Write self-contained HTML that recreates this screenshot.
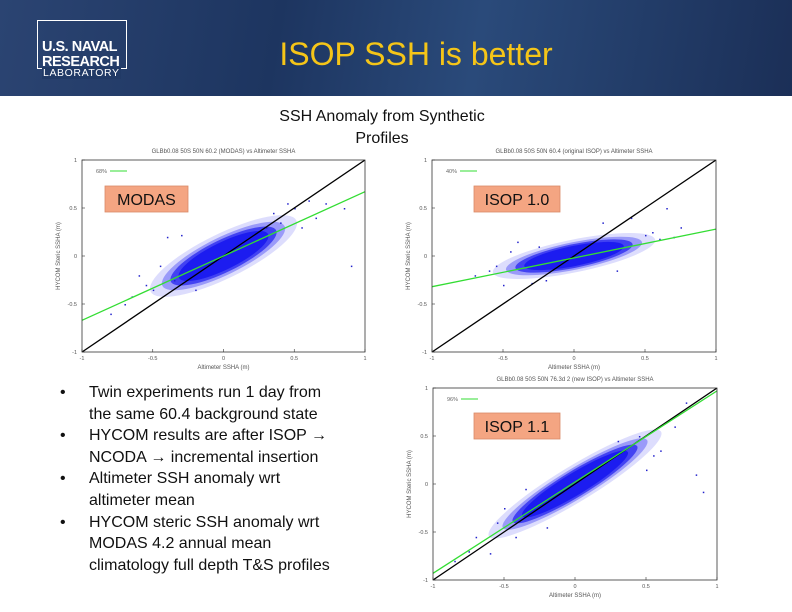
<!DOCTYPE html>
<html><head><meta charset="utf-8">
<style>
body{margin:0;width:792px;height:612px;overflow:hidden;background:#fff;font-family:"Liberation Sans",sans-serif;position:relative}
#hdr{position:absolute;left:0;top:0;width:792px;height:96px;background:linear-gradient(100deg,#2b4472 0%,#1d3560 35%,#2a4a7a 60%,#1b2f57 100%)}
#logo{position:absolute;left:37px;top:20px;width:88px;height:47px;border:1.5px solid #fff;color:#fff}
#title{position:absolute;left:0;width:832px;top:36px;text-align:center;color:#f5c518;font-size:32px}
#sub{position:absolute;left:232px;width:300px;top:106px;text-align:center;font-size:16px;line-height:22px;color:#111}
ul{position:absolute;left:58px;top:382px;margin:0;padding:0;width:286px;list-style:none;font-size:16px;line-height:21.6px;color:#111}
li{position:relative;padding-left:31px}
li:before{content:"•";position:absolute;left:2px}
</style></head><body>
<div id="hdr">
<div id="logo">
<div style="position:absolute;left:4px;top:19px;font-size:14.5px;font-weight:bold;line-height:15px;letter-spacing:-0.5px">U.S. NAVAL<br>RESEARCH</div>
<div style="position:absolute;left:4px;top:46px;font-size:10.5px;letter-spacing:0.6px;background:#213a66;padding:0 1px">LABORATORY</div>
</div>
<div id="title">ISOP SSH is better</div>
</div>
<div id="sub">SSH Anomaly from Synthetic<br>Profiles</div>
<ul>
<li>Twin experiments run 1 day from the same 60.4 background state</li>
<li>HYCOM results are after ISOP → NCODA → incremental insertion</li>
<li>Altimeter SSH anomaly wrt altimeter mean</li>
<li>HYCOM steric SSH anomaly wrt MODAS 4.2 annual mean climatology full depth T&amp;S profiles</li>
</ul>
<svg id="svg" width="792" height="612" style="position:absolute;left:0;top:0"></svg>
<script>
const tickVals=[-1,-0.5,0,0.5,1];
const tickLabels=["-1","-0.5","0","0.5","1"];
const plotNames=["modas","isop10","isop11"];
const plotLabels=["MODAS","ISOP 1.0","ISOP 1.1"];
const plotTitles=["GLBb0.08 50S 50N 60.2 (MODAS) vs Altimeter SSHA","GLBb0.08 50S 50N 60.4 (original ISOP) vs Altimeter SSHA","GLBb0.08 50S 50N 76.3d 2 (new ISOP) vs Altimeter SSHA"];
const fitSlopes=[0.67,0.3,0.95];
const fitIntercepts=[0.0,-0.02,0.02];
const fitLegend=["68%","40%","96%"];
const cloudSlopes=[0.72,0.3,0.9];
const cloudSpreadX=[0.3,0.36,0.34];
const cloudSpreadY=[0.15,0.11,0.12];
const outX=[[-0.8,-0.65,-0.6,-0.5,-0.45,-0.4,-0.3,0.35,0.45,0.5,0.6,0.72,0.85,0.9,-0.2,0.3,-0.55,-0.35,0.4,0.55,-0.7,0.65],[-0.7,-0.55,-0.5,-0.4,-0.3,-0.25,0.4,0.5,0.6,0.65,0.75,-0.2,0.3,0.2,-0.6,0.55,0.7,-0.45],[-0.85,-0.7,-0.6,-0.5,-0.42,-0.35,0.45,0.55,0.7,0.78,0.85,0.9,-0.2,0.3,-0.75,-0.55,0.6,0.5]];
const outY=[[-0.6,-0.42,-0.2,-0.35,-0.1,0.2,0.22,0.45,0.55,0.5,0.58,0.55,0.5,-0.1,-0.35,0.3,-0.3,-0.25,0.35,0.3,-0.5,0.4],[-0.2,-0.1,-0.3,0.15,-0.28,0.1,0.4,0.22,0.18,0.5,0.3,-0.25,-0.15,0.35,-0.15,0.25,0.2,0.05],[-0.8,-0.55,-0.72,-0.25,-0.55,-0.05,0.5,0.3,0.6,0.85,0.1,-0.08,-0.45,0.45,-0.7,-0.4,0.35,0.15]];
const boxes=[[82,365,160,352],[432,716,160,352],[433,717,388,580]];
const ns="http://www.w3.org/2000/svg";
const svg=document.getElementById('svg');
function mk(t,a,p){const e=document.createElementNS(ns,t);for(const k in a)e.setAttribute(k,a[k]);(p||svg).appendChild(e);return e;}
plotNames.forEach((nm,i)=>{
 const [x0,x1,y0,y1]=boxes[i];
 const sx=v=>x0+(v+1)/2*(x1-x0), sy=v=>y1-(v+1)/2*(y1-y0);
 const g=mk('g',{});
 
 
 const cp=mk('clipPath',{id:'c'+i},g);mk('rect',{x:x0,y:y0,width:x1-x0,height:y1-y0},cp);
 const t=mk('text',{x:(x0+x1)/2,y:y0-7,'font-size':6,'text-anchor':'middle',fill:'#555'},g);t.textContent=plotTitles[i];
 
 
 const ci=mk('g',{'clip-path':'url(#c'+i+')'},g);
 const ang=Math.atan2(cloudSlopes[i]*(y1-y0)/2,(x1-x0)/2)*180/Math.PI;
 const rx=cloudSpreadX[i]*(x1-x0)/2*Math.sqrt(1+cloudSlopes[i]**2), ry=cloudSpreadY[i]*(y1-y0)/2;
 [[1.55,0.15],[1.3,0.35],[1.12,0.7],[0.95,1]].forEach(([s,o])=>{const e=mk('ellipse',{cx:sx(0),cy:sy(0),rx:rx*s,ry:ry*s,fill:'#1c1cf0','fill-opacity':o,transform:`rotate(${-ang} ${sx(0)} ${sy(0)})`},ci);
 
 });
 outX[i].forEach((v,j)=>{const r=mk('rect',{x:sx(v),y:sy(outY[i][j]),width:1.5,height:1.5,fill:'#22c'},ci);
 
 });
 const d=mk('line',{x1:sx(-1),y1:sy(-1),x2:sx(1),y2:sy(1),stroke:'#000','stroke-width':1.3},ci);
 
 
 const f=mk('line',{x1:sx(-1),y1:sy(fitIntercepts[i]-fitSlopes[i]),x2:sx(1),y2:sy(fitIntercepts[i]+fitSlopes[i]),stroke:'#3d3',"stroke-width":1.3},ci);
 
 
 mk('rect',{x:x0,y:y0,width:x1-x0,height:y1-y0,fill:'none',stroke:'#333','stroke-width':0.8},g);
 tickVals.forEach((v,j)=>{
  mk('line',{x1:sx(v),y1:y1,x2:sx(v),y2:y1-3,stroke:'#333','stroke-width':0.6},g);
  mk('line',{x1:x0,y1:sy(v),x2:x0+3,y2:sy(v),stroke:'#333','stroke-width':0.6},g);
  const a=mk('text',{x:sx(v),y:y1+8,'font-size':5.5,'text-anchor':'middle',fill:'#555'},g);a.textContent=tickLabels[j];
  
  
  const b=mk('text',{x:x0-5,y:sy(v)+2,'font-size':5.5,'text-anchor':'end',fill:'#555'},g);b.textContent=tickLabels[j];
  
  
 });
 const xl=mk('text',{x:(x0+x1)/2,y:y1+17,'font-size':6,'text-anchor':'middle',fill:'#555'},g);xl.textContent='Altimeter SSHA (m)';
 
 
 const yl=mk('text',{x:0,y:0,'font-size':6,'text-anchor':'middle',fill:'#555',transform:`translate(${x0-22},${(y0+y1)/2}) rotate(-90)`},g);yl.textContent='HYCOM Steric SSHA (m)';
 
 
 const lg=mk('text',{x:x0+25,y:y0+13,'font-size':5.5,fill:'#666','text-anchor':'end'},g);lg.textContent=fitLegend[i];
 
 
 mk('line',{x1:x0+28,y1:y0+11,x2:x0+45,y2:y0+11,stroke:'#3d3','stroke-width':1},g);
 const bx=i==0?105:474, by=i==2?413:186;
 const lb=mk('rect',{x:bx,y:by,width:i==0?83:86,height:26,fill:'#f4a582',stroke:'#d98a68','stroke-width':0.8},g);
 
 
 const lt=mk('text',{x:bx+(i==0?41.5:43),y:by+19,'font-size':16,'text-anchor':'middle',fill:'#111'},g);lt.textContent=plotLabels[i];
 
 
});
</script>
</body></html>
